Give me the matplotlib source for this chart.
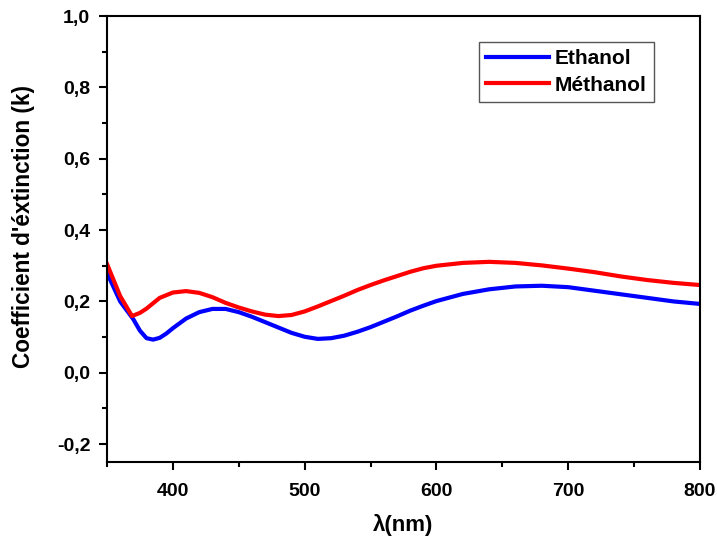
import matplotlib
matplotlib.use("Agg")
import matplotlib.pyplot as plt
from matplotlib.ticker import MultipleLocator, FuncFormatter

plt.rcParams['font.family'] = ['Liberation Sans', 'DejaVu Sans']

wl_eth = [350, 360, 370, 375, 380, 385, 390, 395, 400, 410, 420, 430, 440, 450, 460, 470, 480, 490,
          500, 510, 520, 530, 540, 550, 560, 570, 580, 590, 600, 620, 640, 660, 680,
          700, 720, 740, 760, 780, 800]
k_eth = [0.28, 0.20, 0.15, 0.118, 0.097, 0.093, 0.098, 0.110, 0.125, 0.152, 0.170, 0.179, 0.179, 0.170,
         0.157, 0.142, 0.127, 0.112, 0.101, 0.095, 0.097, 0.104, 0.115, 0.128, 0.143,
         0.158, 0.174, 0.188, 0.201, 0.221, 0.234, 0.242, 0.244, 0.240, 0.230, 0.220,
         0.210, 0.200, 0.193]

wl_meth = [350, 360, 369, 375, 380, 390, 400, 410, 420, 430, 440, 450, 460, 470, 480, 490,
           500, 510, 520, 530, 540, 550, 560, 570, 580, 590, 600, 620, 640, 660, 680,
           700, 720, 740, 760, 780, 800]
k_meth = [0.305, 0.215, 0.159, 0.168, 0.180, 0.210, 0.225, 0.229, 0.224, 0.212, 0.196, 0.183,
          0.172, 0.163, 0.159, 0.162, 0.172, 0.186, 0.201, 0.216, 0.232, 0.246, 0.259,
          0.271, 0.283, 0.293, 0.300, 0.308, 0.311, 0.308, 0.301, 0.292, 0.282, 0.270,
          0.260, 0.252, 0.246]

labels = ["Ethanol", "Méthanol"]
colors = ["#0000ff", "#ff0000"]

fig = plt.figure(figsize=(7.17, 5.37), dpi=100)
ax = fig.add_axes([107/717, 75/537, (700-107)/717, (462-16)/537])

ax.plot(wl_eth, k_eth, color=colors[0], lw=3.0, label=labels[0], solid_joinstyle='round')
ax.plot(wl_meth, k_meth, color=colors[1], lw=3.0, label=labels[1], solid_joinstyle='round')

ax.set_xlim(350, 800)
ax.set_ylim(-0.25, 1.0)
ax.xaxis.set_major_locator(MultipleLocator(100))
ax.xaxis.set_minor_locator(MultipleLocator(50))
ax.yaxis.set_major_locator(MultipleLocator(0.2))
ax.yaxis.set_minor_locator(MultipleLocator(0.1))
ax.yaxis.set_major_formatter(FuncFormatter(lambda v, p: f"{v:.1f}".replace('.', ',').replace('-0,0', '0,0')))

for s in ax.spines.values():
    s.set_linewidth(1.5)
ax.tick_params(which='major', direction='out', length=6, width=1.5, labelsize=14, pad=6)
ax.tick_params(axis='x', which='major', pad=9)
ax.tick_params(which='minor', direction='out', length=3.5, width=1.5)
for lab in ax.get_xticklabels() + ax.get_yticklabels():
    lab.set_fontweight('bold')

ax.set_xlabel("λ(nm)", fontsize=16, fontweight='bold', labelpad=10)
ax.set_ylabel("Coefficient d'éxtinction (k)", fontsize=16.3, fontweight='bold')
ax.yaxis.set_label_coords(-0.121, 0.527)

leg = ax.legend(loc='upper right', bbox_to_anchor=(0.9224, 0.9417), borderaxespad=0,
                fancybox=False, edgecolor='#555555', framealpha=1,
                prop={'weight': 'bold', 'size': 15},
                handlelength=3.0, handletextpad=0.3, borderpad=0.35, labelspacing=0.35)
leg.get_frame().set_linewidth(1.0)

fig.savefig("out.png", dpi=100)
